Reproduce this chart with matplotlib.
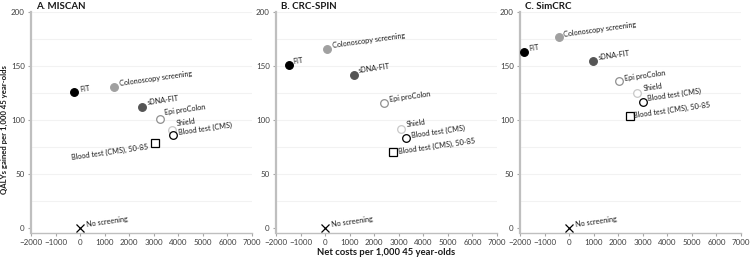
import matplotlib.pyplot as plt

plt.rcParams['font.family'] = ['Lato', 'DejaVu Sans']

# strategies (same order in every panel)
strategies = ['No screening', 'FIT', 'Colonoscopy screening', 'sDNA-FIT', 'Epi proColon',
              'Shield', 'Blood test (CMS)', 'Blood test (CMS), 50-85']

# net costs per 1,000 45 year-olds
miscan_cost = [0, -250, 1390, 2500, 3250, 3730, 3780, 3070]
crcspin_cost = [0, -1490, 90, 1160, 2400, 3100, 3300, 2770]
simcrc_cost = [0, -1820, -420, 970, 2050, 2760, 2990, 2460]

# QALYs gained per 1,000 45 year-olds
miscan_qaly = [0, 126, 131, 112, 101, 91, 86, 79]
crcspin_qaly = [0, 151, 166, 142, 116, 92, 83, 70]
simcrc_qaly = [0, 163, 177, 155, 136, 125, 117, 104]

titles = ['A. MISCAN', 'B. CRC-SPIN', 'C. SimCRC']

# marker style for each strategy: (marker, face, edge)
styles = [('x', 'black', 'black'), ('o', 'black', 'black'), ('o', '#a0a0a0', '#a0a0a0'),
          ('o', '#555555', '#555555'), ('o', 'white', '#909090'), ('o', 'white', '#c8c8c8'),
          ('o', 'white', 'black'), ('s', 'white', 'black')]

# label offsets in pixels per panel
offsets_a = [(6, 3), (6, 2), (5, 3), (6, 5), (5, 6), (5, 6), (6, 3), (-7, -4)]
offsets_b = [(6, 3), (5, 3), (5, 3), (5, 4), (5, 3), (5, 4), (5, 3), (5, 1)]
offsets_c = [(6, 3), (5, 3), (5, 2), (5, 3), (5, 3), (6, 4), (5, 3), (4, 0)]

fig = plt.figure(figsize=(7.5, 2.59), dpi=100)
lefts = [31 / 750, 276 / 750, 520 / 750]
panels = [(miscan_cost, miscan_qaly, offsets_a),
          (crcspin_cost, crcspin_qaly, offsets_b),
          (simcrc_cost, simcrc_qaly, offsets_c)]

for i, (cost, qaly, offs) in enumerate(panels):
    ax = fig.add_axes([lefts[i], 26 / 259, 221 / 750, 221 / 259])
    ax.set_xlim(-2000, 7000)
    ax.set_ylim(-4.6, 200)
    for y in range(25, 201, 25):
        ax.axhline(y, color='#f2f2f2', lw=0.8, zorder=0)
    for j, name in enumerate(strategies):
        m, fc, ec = styles[j]
        if m == 'x':
            ax.plot(cost[j], qaly[j], marker='x', color='black', ms=6, mew=0.9, ls='none', zorder=3)
        else:
            ax.plot(cost[j], qaly[j], marker=m, mfc=fc, mec=ec, ms=5.5, mew=0.9, ls='none', zorder=3)
        dx, dy = offs[j]
        ax.annotate(name, (cost[j], qaly[j]), xytext=(dx, dy), textcoords='offset pixels',
                    ha='left' if dx > 0 else 'right', va='center', rotation=8,
                    rotation_mode='anchor', fontsize=5.2, color='#1a1a1a')
    ax.set_xticks(range(-2000, 7001, 1000))
    ax.set_yticks(range(0, 201, 50))
    ax.tick_params(labelsize=5.8, colors='#404040', length=2.5, width=0.8, pad=2)
    ax.tick_params(axis='both', color='#a6a6a6')
    for s in ['top', 'right']:
        ax.spines[s].set_visible(False)
    ax.spines['left'].set_color('#bfbfbf')
    ax.spines['left'].set_linewidth(1.6)
    ax.spines['bottom'].set_color('#bfbfbf')
    ax.spines['bottom'].set_linewidth(1.0)
    fig.text(lefts[i] + 5 / 750, 1 - 9 / 259, titles[i],
             fontsize=7, fontweight='bold', color='#1a1a1a', va='baseline', ha='left')

fig.text(1 / 750, 1 - 130 / 259, 'QALYs gained per 1,000 45 year-olds', rotation=90, fontsize=5.6,
         fontweight='bold', ha='left', va='center', color='#1a1a1a')
fig.text(386 / 750, 2 / 259, 'Net costs per 1,000 45 year-olds', fontsize=6.8,
         fontweight='bold', ha='center', va='bottom', color='#1a1a1a')

fig.savefig('out.png', dpi=100)
